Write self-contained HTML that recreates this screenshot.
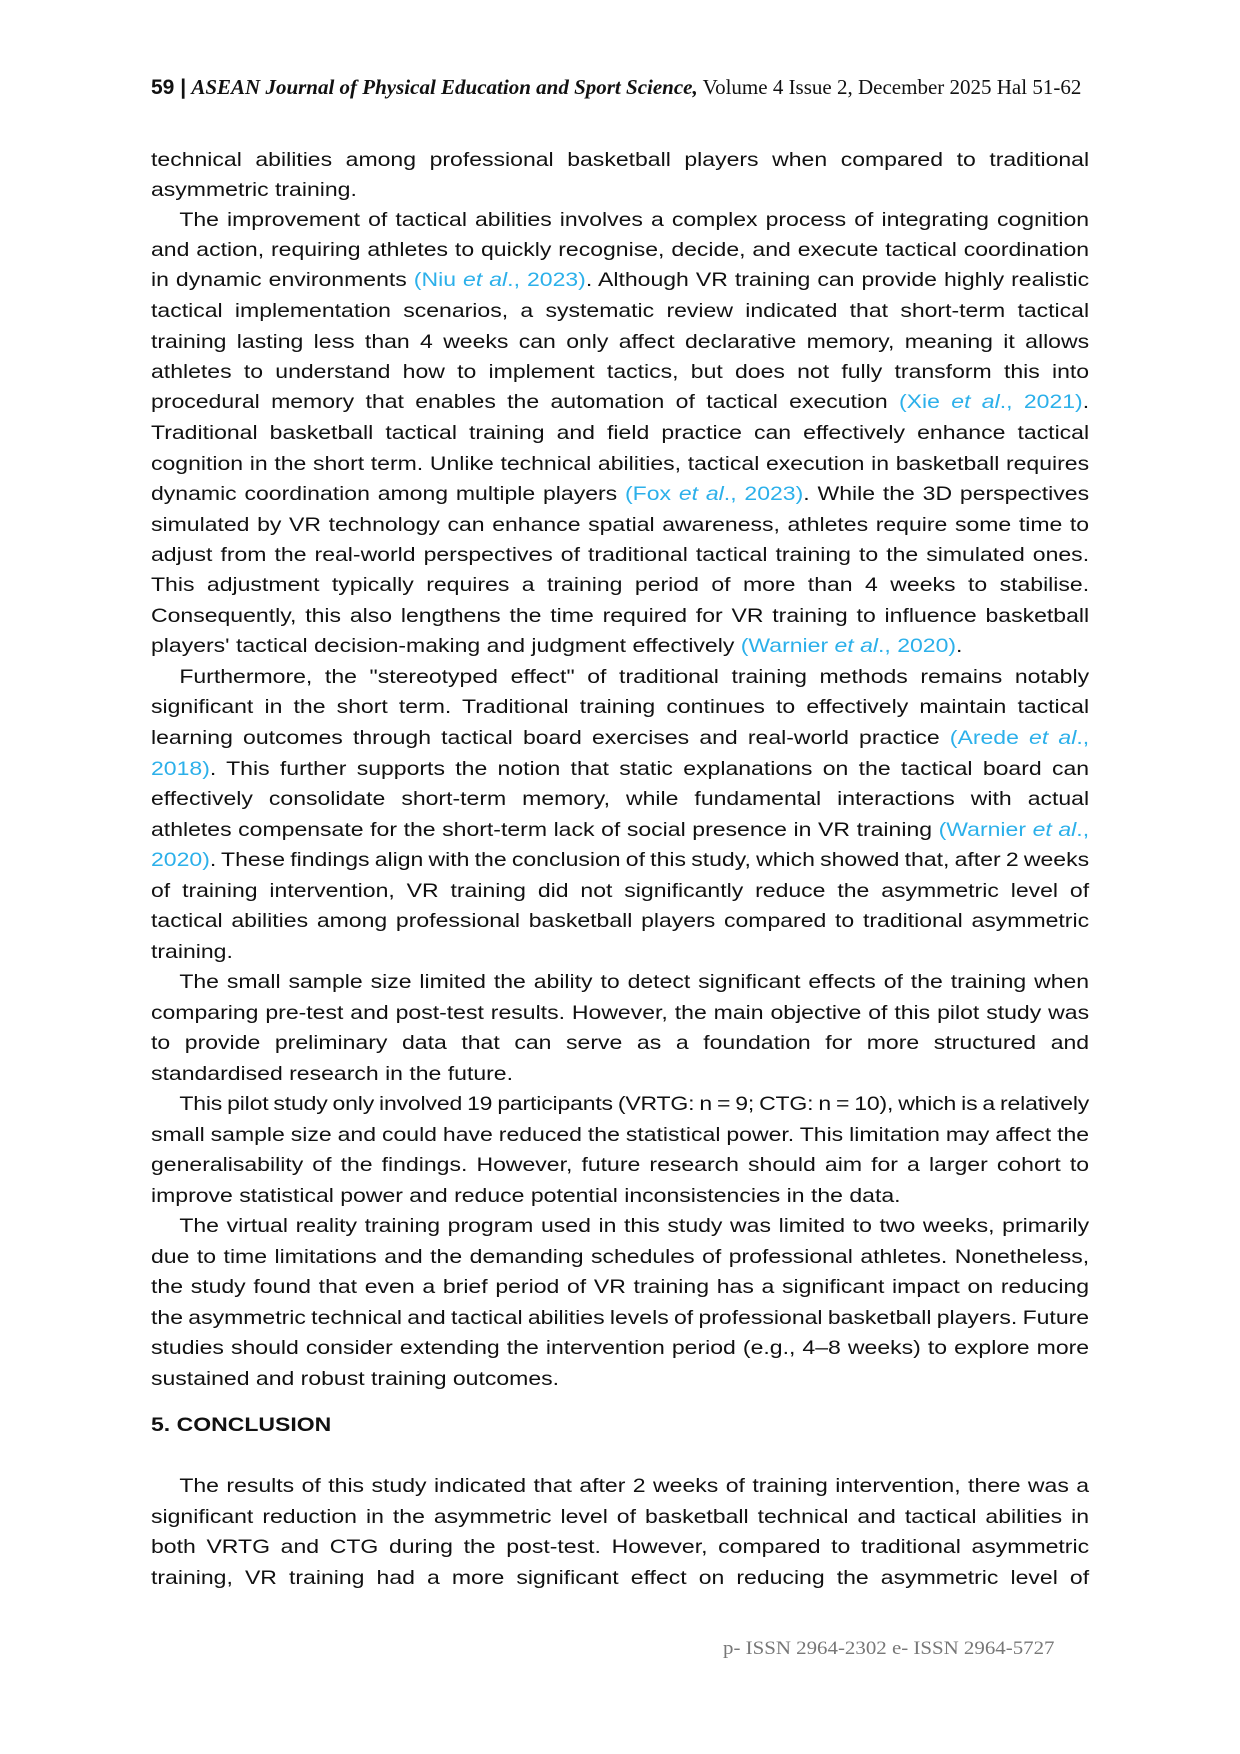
<!DOCTYPE html>
<html><head><meta charset="utf-8"><style>
html,body{margin:0;padding:0;background:#fff;}
body{width:1240px;height:1754px;position:relative;overflow:hidden;}
.c{position:absolute;left:151px;top:0;width:938px;height:1754px;}
.l{position:absolute;left:0;width:795px;transform:scaleX(1.18);transform-origin:0 0;font-family:"Liberation Sans",sans-serif;font-size:19.5px;line-height:24px;color:#111;white-space:nowrap;text-align:justify;text-align-last:justify;}
.e{text-align-last:left;}
.i{padding-left:24px;box-sizing:border-box;}
.b{color:#2cb0ea;}
.h{position:absolute;left:151px;top:75px;width:1190px;font-family:"Liberation Serif",serif;font-size:21px;color:#111;white-space:nowrap;}
.f{position:absolute;left:723px;top:1638px;font-family:"Liberation Serif",serif;font-size:19px;color:#777;transform:scaleX(1.1);transform-origin:0 0;white-space:nowrap;}
</style></head><body>
<div class="h"><b style="font-family:'Liberation Sans',sans-serif">59 |</b> <b><i>ASEAN Journal of Physical Education and Sport Science,</i></b> Volume 4 Issue 2, December 2025 Hal 51-62</div>
<div class="c">
<div class="l" style="top:148px">technical abilities among professional basketball players when compared to traditional</div>
<div class="l e" style="top:178px">asymmetric training.</div>
<div class="l i" style="top:208px">The improvement of tactical abilities involves a complex process of integrating cognition</div>
<div class="l" style="top:238px">and action, requiring athletes to quickly recognise, decide, and execute tactical coordination</div>
<div class="l" style="top:268px">in dynamic environments <span class="b">(Niu <i>et al</i>., 2023)</span>. Although VR training can provide highly realistic</div>
<div class="l" style="top:299px">tactical implementation scenarios, a systematic review indicated that short-term tactical</div>
<div class="l" style="top:330px">training lasting less than 4 weeks can only affect declarative memory, meaning it allows</div>
<div class="l" style="top:360px">athletes to understand how to implement tactics, but does not fully transform this into</div>
<div class="l" style="top:390px">procedural memory that enables the automation of tactical execution <span class="b">(Xie <i>et al</i>., 2021)</span>.</div>
<div class="l" style="top:421px">Traditional basketball tactical training and field practice can effectively enhance tactical</div>
<div class="l" style="top:452px;word-spacing:-1px">cognition in the short term. Unlike technical abilities, tactical execution in basketball requires</div>
<div class="l" style="top:482px">dynamic coordination among multiple players <span class="b">(Fox <i>et al</i>., 2023)</span>. While the 3D perspectives</div>
<div class="l" style="top:513px">simulated by VR technology can enhance spatial awareness, athletes require some time to</div>
<div class="l" style="top:543px">adjust from the real-world perspectives of traditional tactical training to the simulated ones.</div>
<div class="l" style="top:573px">This adjustment typically requires a training period of more than 4 weeks to stabilise.</div>
<div class="l" style="top:604px">Consequently, this also lengthens the time required for VR training to influence basketball</div>
<div class="l e" style="top:634px">players' tactical decision-making and judgment effectively <span class="b">(Warnier <i>et al</i>., 2020)</span>.</div>
<div class="l i" style="top:665px">Furthermore, the "stereotyped effect" of traditional training methods remains notably</div>
<div class="l" style="top:695px">significant in the short term. Traditional training continues to effectively maintain tactical</div>
<div class="l" style="top:726px">learning outcomes through tactical board exercises and real-world practice <span class="b">(Arede <i>et al</i>.,</span></div>
<div class="l" style="top:757px"><span class="b">2018)</span>. This further supports the notion that static explanations on the tactical board can</div>
<div class="l" style="top:787px">effectively consolidate short-term memory, while fundamental interactions with actual</div>
<div class="l" style="top:818px;word-spacing:-1px">athletes compensate for the short-term lack of social presence in VR training <span class="b">(Warnier <i>et al</i>.,</span></div>
<div class="l" style="top:848px;word-spacing:-1.5px"><span class="b">2020)</span>. These findings align with the conclusion of this study, which showed that, after 2 weeks</div>
<div class="l" style="top:879px">of training intervention, VR training did not significantly reduce the asymmetric level of</div>
<div class="l" style="top:909px">tactical abilities among professional basketball players compared to traditional asymmetric</div>
<div class="l e" style="top:940px">training.</div>
<div class="l i" style="top:970px">The small sample size limited the ability to detect significant effects of the training when</div>
<div class="l" style="top:1001px;word-spacing:-1px">comparing pre-test and post-test results. However, the main objective of this pilot study was</div>
<div class="l" style="top:1031px">to provide preliminary data that can serve as a foundation for more structured and</div>
<div class="l e" style="top:1062px">standardised research in the future.</div>
<div class="l i" style="top:1092px;word-spacing:-2.5px;letter-spacing:-0.15px">This pilot study only involved 19 participants (VRTG: n = 9; CTG: n = 10), which is a relatively</div>
<div class="l" style="top:1123px;word-spacing:-1.5px">small sample size and could have reduced the statistical power. This limitation may affect the</div>
<div class="l" style="top:1153px">generalisability of the findings. However, future research should aim for a larger cohort to</div>
<div class="l e" style="top:1184px">improve statistical power and reduce potential inconsistencies in the data.</div>
<div class="l i" style="top:1214px">The virtual reality training program used in this study was limited to two weeks, primarily</div>
<div class="l" style="top:1245px">due to time limitations and the demanding schedules of professional athletes. Nonetheless,</div>
<div class="l" style="top:1275px">the study found that even a brief period of VR training has a significant impact on reducing</div>
<div class="l" style="top:1306px;word-spacing:-1px">the asymmetric technical and tactical abilities levels of professional basketball players. Future</div>
<div class="l" style="top:1336px">studies should consider extending the intervention period (e.g., 4–8 weeks) to explore more</div>
<div class="l e" style="top:1367px">sustained and robust training outcomes.</div>
<div class="l e" style="top:1413px;font-weight:bold">5. CONCLUSION</div>
<div class="l i" style="top:1474px">The results of this study indicated that after 2 weeks of training intervention, there was a</div>
<div class="l" style="top:1505px">significant reduction in the asymmetric level of basketball technical and tactical abilities in</div>
<div class="l" style="top:1535px">both VRTG and CTG during the post-test. However, compared to traditional asymmetric</div>
<div class="l" style="top:1566px">training, VR training had a more significant effect on reducing the asymmetric level of</div>
</div>
<div class="f">p- ISSN 2964-2302 e- ISSN 2964-5727</div>
</body></html>
